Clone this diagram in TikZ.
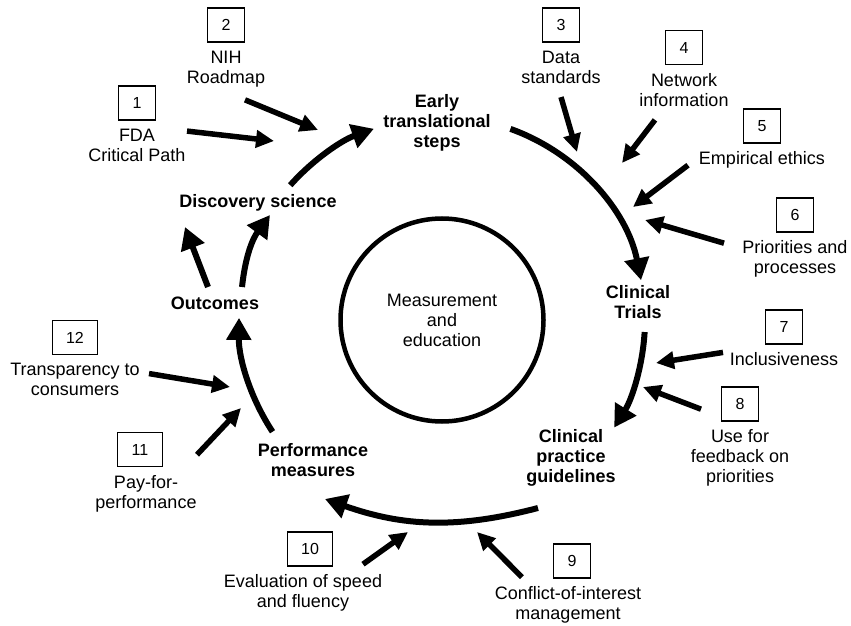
\documentclass[tikz,border=0pt]{standalone}
\usepackage{fontspec}
\setmainfont{Liberation Sans}
\usetikzlibrary{arrows.meta,positioning,calc}

\begin{document}
\begin{tikzpicture}[
  x=1pt,y=1pt,
  stage/.style={font=\fontsize{18}{20}\selectfont\bfseries,align=center,inner sep=0pt},
  lbl/.style={font=\fontsize{18}{20}\selectfont,align=center,inner sep=0pt},
  num/.style={draw,line width=1.2pt,minimum width=37pt,minimum height=34pt,
              inner sep=0pt,font=\fontsize{16}{18}\selectfont},
  wide/.style={num,minimum width=45pt},
  cyc/.style={line width=6pt,-{Triangle[length=22pt,width=24pt]}},
  feed/.style={line width=5.5pt,-{Triangle[length=18pt,width=17pt]}}
]
\useasboundingbox (0,0) rectangle (851,625);

% centre of the cycle
\coordinate (hub) at (442,305);
\node[lbl,draw,circle,line width=4.5pt,minimum size=203pt] (meas) at (hub)
  {Measurement\\and\\education};

% stages of the cycle
\node[stage] (early) at (437,502) {Early\\translational\\steps};
\node[stage] (trials) at (638,323) {Clinical\\Trials};
\node[stage] (cpg) at (571,167) {Clinical\\practice\\guidelines};
\node[stage] (perf) at (313,165) {Performance\\measures};
\node[stage] (outc) at (215,322) {Outcomes};
\node[stage] (disc) at (258,422) {Discovery science};

% cycle arrows
\draw[cyc] ([shift={(138.4:203)}]hub) arc[start angle=138.4,end angle=109.6,radius=203];
\draw[cyc] ([shift={(70.3:203)}]hub) arc[start angle=70.3,end angle=11.3,radius=203];
\draw[cyc] ([shift={(-3.4:203)}]hub) arc[start angle=-3.4,end angle=-32,radius=203];
\coordinate (cpg-out) at (538,117);
\coordinate (perf-in) at (325,126);
\draw[cyc] (cpg-out) to[bend left=17] (perf-in);
\draw[cyc] ([shift={(213.4:203)}]hub) arc[start angle=213.4,end angle=179.4,radius=203];
\draw[cyc] ($(outc)+(-7,16)$) -- ($(disc)+(-73,-24)$);
\draw[cyc] ($(outc)+(27,16)$) to[bend left=15] ($(disc)+(12,-12)$);

% numbered influences
\node[num] (b1) at (137,522) {1};
\node[lbl,below=8pt of b1] (l1) {FDA\\Critical Path};
\node[num] (b2) at (226,600) {2};
\node[lbl,below=8pt of b2] (l2) {NIH\\Roadmap};
\node[num] (b3) at (561,600) {3};
\node[lbl,below=8pt of b3] (l3) {Data\\standards};
\node[num] (b4) at (684,577.5) {4};
\node[lbl,below=8pt of b4] (l4) {Network\\information};
\node[num] (b5) at (762,499) {5};
\node[lbl,below=8pt of b5] (l5) {Empirical ethics};
\node[num] (b6) at (795,410) {6};
\node[lbl,below=8pt of b6] (l6) {Priorities and\\processes};
\node[num] (b7) at (784,298) {7};
\node[lbl,below=8pt of b7] (l7) {Inclusiveness};
\node[num] (b8) at (740,221) {8};
\node[lbl,below=8pt of b8] (l8) {Use for\\feedback on\\priorities};
\node[num] (b9) at (572,64) {9};
\node[lbl,below=8pt of b9,xshift=-4pt] (l9) {Conflict-of-interest\\management};
\node[wide] (b10) at (310,76) {10};
\node[lbl,below=8pt of b10,xshift=-7pt] (l10) {Evaluation of speed\\and fluency};
\node[wide] (b11) at (140,175.5) {11};
\node[lbl,below=8pt of b11,xshift=6pt] (l11) {Pay-for-\\performance};
\node[wide] (b12) at (75,287.5) {12};
\node[lbl,below=8pt of b12] (l12) {Transparency to\\consumers};

% where the influences point
\coordinate (t1) at (274,484);
\coordinate (t2) at (318,495);
\coordinate (t3) at (577,473);
\coordinate (t4) at (622,462);
\coordinate (t5) at (633,418);
\coordinate (t6) at (645,405);
\coordinate (t7) at (656,262);
\coordinate (t8) at (643,238);
\coordinate (t9) at (477,93);
\coordinate (t10) at (408,93);
\coordinate (t11) at (241,217);
\coordinate (t12) at (230,238);

\draw[feed] ($(l1)+(50,14)$) -- (t1);
\draw[feed] ($(l2)+(19,-31)$) -- (t2);
\draw[feed] ($(l3)+(0,-30)$) -- (t3);
\draw[feed] ($(l4)+(-29,-30)$) -- (t4);
\draw[feed] ($(l5)+(-74,-5)$) -- (t5);
\draw[feed] ($(l6)+(-71,16)$) -- (t6);
\draw[feed] ($(l7)+(-61,7)$) -- (t7);
\draw[feed] ($(l8)+(-39,49)$) -- (t8);
\draw[feed] ($(l9)+(-46,28)$) -- (t9);
\draw[feed] ($(l10)+(60,29)$) -- (t10);
\draw[feed] ($(l11)+(51,39)$) -- (t11);
\draw[feed] ($(l12)+(74,6)$) -- (t12);
\end{tikzpicture}
\end{document}
